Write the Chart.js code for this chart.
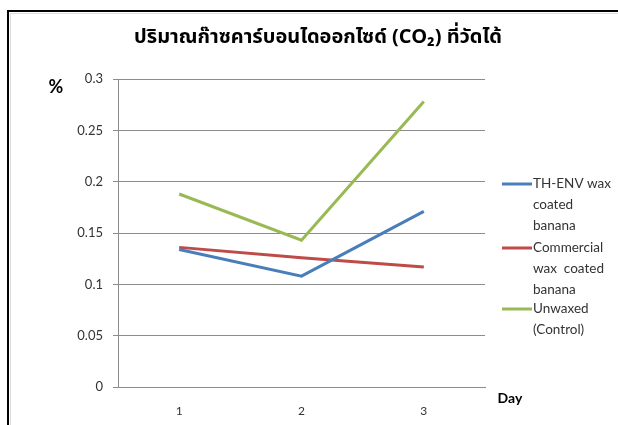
<!DOCTYPE html>
<html>
<head>
<meta charset="utf-8">
<script src="https://cdn.jsdelivr.net/npm/chart.js@4.4.1/dist/chart.umd.min.js"></script>
<style>
  html, body { margin: 0; padding: 0; background: #fff; }
  #wrap { position: relative; width: 618px; height: 425px; overflow: hidden; }
  #frame { position: absolute; left: 7px; top: 10px; width: 700px; height: 500px;
           border-left: 2px solid #000; border-top: 2px solid #000; }
  #inner { position: absolute; left: 10px; top: 13px; width: 700px; height: 500px;
           border-left: 1px solid #ddd; border-top: 1px solid #ddd; }
  canvas { position: absolute; left: 0; top: 0; }
</style>
</head>
<body>
<div id="wrap">
  <div id="frame"></div>
  <div id="inner"></div>
  <canvas id="chart" width="618" height="425"></canvas>
</div>
<script>
// ข้อมูล
const days = ['1', '2', '3'];
const thEnvWax = [0.134, 0.108, 0.171];
const commercialWax = [0.136, 0.126, 0.117];
const unwaxed = [0.188, 0.143, 0.278];
const yTicks = [0, 0.05, 0.1, 0.15, 0.2, 0.25, 0.3];

const seriesNames = [
    ['TH-ENV wax', 'coated', 'banana'],
    ['Commercial', 'wax  coated', 'banana'],
    ['Unwaxed', '(Control)']
];
const seriesColors = ['#4a7ebb', '#be4b48', '#98b954'];

const titleText = 'ปริมาณก๊าซคาร์บอนไดออกไซด์ (CO₂) ที่วัดได้';
const baseFont = 'Lato, "Open Sans", sans-serif';

// วาดหัวเรื่อง ป้ายแกน และคำอธิบายเอง
const decorPlugin = {
    id: 'decor',
    afterDraw(chart) {
        const ctx = chart.ctx;
        ctx.save();
        ctx.fillStyle = '#000';
        ctx.textBaseline = 'middle';
        ctx.textAlign = 'center';
        ctx.font = 'bold 20px Tahoma, "Noto Sans Thai", "Noto Sans", sans-serif';
        ctx.fillText(titleText, 318, 39);

        ctx.font = 'bold 18px ' + baseFont;
        ctx.fillText('%', 56, 87);
        ctx.font = 'bold 14px ' + baseFont;
        ctx.fillText('Day', 510, 398);

        // legend
        const legendY = [184, 248, 309];
        ctx.textAlign = 'left';
        ctx.font = '13.5px ' + baseFont;
        chart.data.datasets.forEach((ds, i) => {
            const y = legendY[i];
            ctx.strokeStyle = ds.borderColor;
            ctx.lineWidth = 3;
            ctx.beginPath();
            ctx.moveTo(502, y);
            ctx.lineTo(532, y);
            ctx.stroke();
            ctx.fillStyle = '#333';
            seriesNames[i].forEach((line, j) => {
                ctx.fillText(line, 533, y + j * 21);
            });
        });
        ctx.restore();
    }
};

new Chart(document.getElementById('chart'), {
    type: 'line',
    data: {
        labels: days,
        datasets: [thEnvWax, commercialWax, unwaxed].map((values, i) => ({
            label: seriesNames[i].join(' '),
            data: values,
            borderColor: seriesColors[i],
            backgroundColor: seriesColors[i],
            borderWidth: 3,
            pointRadius: 0,
            tension: 0
        }))
    },
    options: {
        responsive: false,
        animation: false,
        layout: { padding: { left: 0, right: 133, top: 79, bottom: 0 } },
        plugins: {
            legend: { display: false },
            title: { display: false },
            tooltip: { enabled: false }
        },
        scales: {
            x: {
                offset: true,
                grid: { display: false, drawTicks: false },
                border: { display: true, color: '#8c8c8c', width: 1 },
                ticks: { color: '#333', padding: 17, font: { family: baseFont, size: 12 } },
                afterFit(scale) { scale.height = 38; }
            },
            y: {
                min: 0,
                max: 0.3,
                afterBuildTicks(scale) { scale.ticks = yTicks.map(v => ({ value: v })); },
                grid: { color: '#8c8c8c', lineWidth: 1, tickLength: 5 },
                border: { display: true, color: '#8c8c8c', width: 1 },
                ticks: {
                    color: '#333',
                    padding: 10,
                    font: { family: baseFont, size: 13 },
                    callback: v => String(v)
                },
                afterFit(scale) { scale.width = 118; }
            }
        }
    },
    plugins: [decorPlugin]
});
</script>
</body>
</html>
